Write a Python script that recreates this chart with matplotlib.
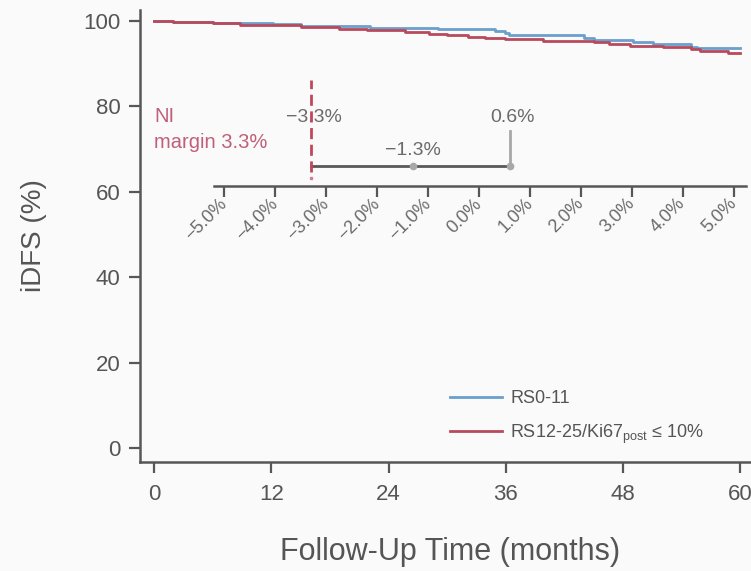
import matplotlib
matplotlib.use('Agg')
import matplotlib.pyplot as plt

# %% data
months_rs011 = [0, 1.9, 6.0, 12.2, 15.0, 22.1, 29.1, 34.9, 35.9, 36.3, 44.0, 45.0, 49.0, 51.1, 54.9, 55.6, 60.0]
idfs_rs011 = [100, 99.8, 99.5, 99.2, 98.8, 98.4, 98.1, 97.7, 97.1, 96.6, 96.0, 95.5, 95.0, 94.5, 94.0, 93.7, 93.7]

months_rs1225 = [0, 1.9, 6.0, 8.8, 15.0, 18.9, 21.8, 25.7, 28.1, 30.0, 32.1, 33.9, 35.9, 39.8, 45.0, 46.6,
                 48.7, 52.1, 54.9, 55.9, 58.7, 60.0]
idfs_rs1225 = [100, 99.8, 99.5, 99.1, 98.6, 98.2, 97.8, 97.4, 96.9, 96.6, 96.3, 96.0, 95.7, 95.3, 95.0, 94.6,
               94.2, 93.8, 93.4, 93.0, 92.6, 92.6]

series_labels = ['RS0-11', 'RS12-25/Ki67$_{\\mathrm{post}}$ ≤ 10%']
x_ticks = [0, 12, 24, 36, 48, 60]
y_ticks = [0, 20, 40, 60, 80, 100]

diff_ticks = [-5, -4, -3, -2, -1, 0, 1, 2, 3, 4, 5]
ni_margin = -3.3
diff_est = -1.3
diff_upper = 0.6

# %% style
plt.rcParams['font.family'] = ['Liberation Sans', 'DejaVu Sans']
plt.rcParams['mathtext.fontset'] = 'custom'
plt.rcParams['mathtext.rm'] = 'Liberation Sans'

axis_col = '#575757'
text_col = '#6a6a6a'
blue = '#6b9fcc'
red = '#b84a5e'

fig = plt.figure(figsize=(7.51, 5.71), dpi=100, facecolor='#fafafa')

ax = fig.add_axes([140 / 751, 0.19089, 620 / 751, 0.7919])
ax.set_facecolor('none')
ax.step(months_rs011, idfs_rs011, where='post', color=blue, lw=2.0, label=series_labels[0], zorder=3)
ax.step(months_rs1225, idfs_rs1225, where='post', color=red, lw=2.0, label=series_labels[1], zorder=3)

ax.set_xlim(-1.43, 62)
ax.set_ylim(-3.3, 102.6)
ax.set_xticks(x_ticks)
ax.set_yticks(y_ticks)
for s in ['top', 'right']:
    ax.spines[s].set_visible(False)
for s in ['left', 'bottom']:
    ax.spines[s].set_color(axis_col)
    ax.spines[s].set_linewidth(1.8)
ax.tick_params(axis='both', direction='out', length=8, width=1.6, color=axis_col,
               labelcolor='#555555', labelsize=16, pad=6)
ax.tick_params(axis='x', labelsize=16, pad=8)

ax.set_xlabel('Follow-Up Time (months)', fontsize=22, color='#555555', labelpad=23)
ax.set_ylabel('iDFS (%)', fontsize=20, color='#555555', labelpad=26)

ax.text(0, 74.6, 'NI\nmargin 3.3%', color='#c06078', fontsize=14.5, ha='left', va='center',
        linespacing=1.45)

ax.legend(loc='upper left', bbox_to_anchor=(450 / 751, 1 - 390 / 571), bbox_transform=fig.transFigure,
          frameon=False, fontsize=13, handlelength=2.9, handletextpad=0.45, labelspacing=0.85,
          borderpad=0, borderaxespad=0, labelcolor='#555555')

# %% inset: difference in iDFS with confidence bound
ins = fig.add_axes([214 / 751, (571 - 186) / 571, 532 / 751, 111 / 571])
ins.set_facecolor('none')
ins.set_xlim(-5.2, 5.24)
ins.set_ylim(0, 1)
for s in ['top', 'right', 'left']:
    ins.spines[s].set_visible(False)
ins.spines['bottom'].set_color(axis_col)
ins.spines['bottom'].set_linewidth(1.8)
ins.set_yticks([])
ins.set_xticks(diff_ticks)
ins.set_xticklabels([f'{v:.1f}%'.replace('-', '−') for v in diff_ticks])
ins.tick_params(axis='x', direction='out', length=8, width=1.6, color=axis_col,
                labelcolor=text_col, labelsize=13, pad=3)
for lab in ins.get_xticklabels():
    lab.set_rotation(45)
    lab.set_ha('right')
    lab.set_va('center')
    lab.set_rotation_mode('anchor')

ins.plot([ni_margin, diff_upper], [0.18, 0.18], color='#585858', lw=2.0, zorder=2, clip_on=False)
ins.plot([diff_upper, diff_upper], [0.18, 0.5], color='#a8a8a8', lw=2.0, zorder=2, clip_on=False)
ins.plot([diff_est, diff_upper], [0.18, 0.18], 'o', color='#a8a8a8', ms=4.5, zorder=3, clip_on=False)
ins.plot([ni_margin, ni_margin], [0.13, 0.955], color='#c0485e', lw=2.0, ls=(0, (4, 2)), zorder=4,
         clip_on=False)
ins.plot([ni_margin], [0.072], 's', color='#d08090', ms=1.5, zorder=4, clip_on=False)

ins.text(ni_margin + 0.06, 0.62, f'{ni_margin:.1f}%'.replace('-', '−'), color=text_col, fontsize=14,
         ha='center', va='center', zorder=3)
ins.text(diff_upper + 0.05, 0.62, f'{diff_upper:.1f}%', color=text_col, fontsize=14,
         ha='center', va='center')
ins.text(diff_est, 0.32, f'{diff_est:.1f}%'.replace('-', '−'), color=text_col, fontsize=14,
         ha='center', va='center')

fig.savefig('out.png', dpi=100, facecolor=fig.get_facecolor())
